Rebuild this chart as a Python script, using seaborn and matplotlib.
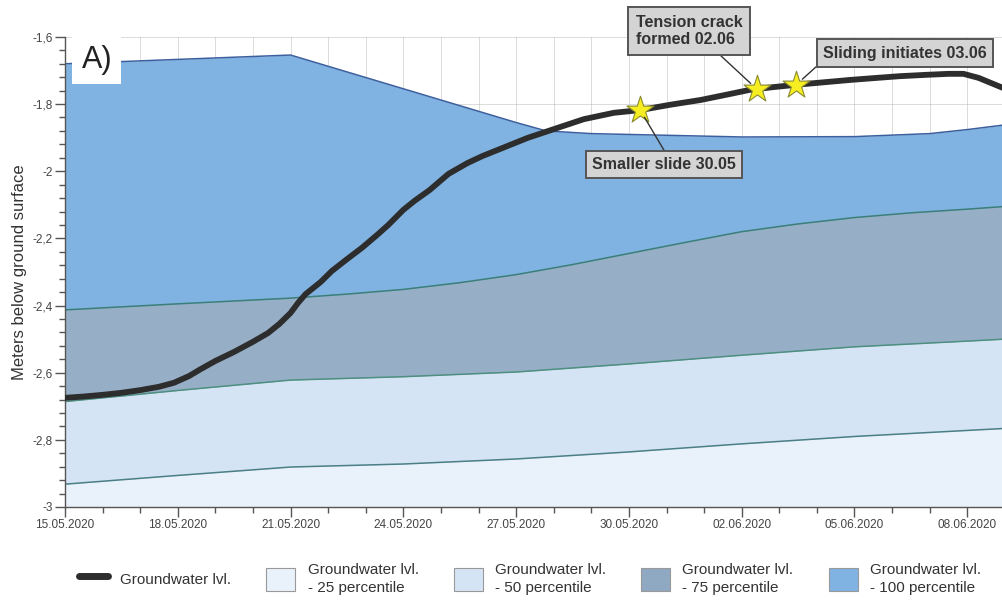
import numpy as np
import pandas as pd
import matplotlib.pyplot as plt
import matplotlib.dates as mdates
from matplotlib.patches import Patch
from matplotlib.lines import Line2D
from matplotlib.ticker import MultipleLocator, FuncFormatter
import seaborn as sns

start = pd.Timestamp('2020-05-15')

# groundwater level (m), days after 15.05.2020
gw_day = [0, 0.5, 1.0, 1.5, 2.0, 2.5, 2.9, 3.3, 3.6, 4.0, 4.5, 5.0, 5.4, 5.7,
          6.0, 6.2, 6.4, 6.8, 7.1, 7.5, 7.9, 8.3, 8.6, 9.0, 9.3, 9.7, 10.2,
          10.7, 11.1, 11.5, 12.3, 13.1, 13.8, 14.6, 15.3, 16.1, 16.9, 17.6,
          18.2, 18.8, 19.5, 20.2, 20.9, 21.6, 22.2, 22.9, 23.5, 23.9, 24.3, 24.95]
gw_level = [-2.675, -2.671, -2.666, -2.660, -2.652, -2.642, -2.630, -2.610,
            -2.590, -2.565, -2.538, -2.508, -2.482, -2.455, -2.422, -2.392,
            -2.366, -2.330, -2.297, -2.262, -2.228, -2.190, -2.160, -2.115,
            -2.088, -2.056, -2.008, -1.976, -1.955, -1.937, -1.901, -1.871,
            -1.845, -1.826, -1.818, -1.802, -1.788, -1.772, -1.758, -1.750,
            -1.742, -1.735, -1.728, -1.722, -1.717, -1.713, -1.710, -1.710,
            -1.722, -1.752]

# percentile levels
p25_day = [0, 3, 6, 9, 12, 15, 18, 21, 24, 25]
p25 = [-2.932, -2.906, -2.881, -2.872, -2.857, -2.836, -2.812, -2.790, -2.772, -2.766]
p50_day = [0, 3, 6, 9, 12, 15, 18, 21, 24, 25]
p50 = [-2.686, -2.653, -2.622, -2.612, -2.598, -2.574, -2.548, -2.523, -2.506, -2.500]
p75_day = [0, 3, 6, 7.5, 9, 10.5, 12, 13.5, 15, 16.5, 18, 19.5, 21, 22.5, 24, 25]
p75 = [-2.413, -2.395, -2.378, -2.366, -2.352, -2.332, -2.308, -2.278, -2.245,
       -2.212, -2.180, -2.157, -2.138, -2.124, -2.113, -2.105]
p100_day = [0, 6, 12, 12.8, 14, 16, 18, 21, 23, 24, 25]
p100 = [-1.680, -1.654, -1.855, -1.880, -1.888, -1.893, -1.898, -1.897, -1.888, -1.876, -1.862]

# events on the groundwater curve
event_label = ['Smaller slide 30.05', 'Tension crack\nformed 02.06', 'Sliding initiates 03.06']
event_day = [15.3, 18.4, 19.45]

legend_labels = ['Groundwater lvl.', 'Groundwater lvl.\n- 25 percentile',
                 'Groundwater lvl.\n- 50 percentile', 'Groundwater lvl.\n- 75 percentile',
                 'Groundwater lvl.\n- 100 percentile']


def to_dates(d):
    return start + pd.to_timedelta(np.asarray(d, dtype=float), unit='D')


sns.set_theme(style='white')
plt.rcParams['font.family'] = ['Liberation Sans', 'DejaVu Sans']

fig = plt.figure(figsize=(10.03, 6.05), dpi=100)
ax = fig.add_axes([0.0648, 0.162, 0.9352, 0.777])

bottom = -3.0
bands = [
    (p100_day, p100, '#80b3e1', '#3d5f9e'),
    (p75_day, p75, '#97afc6', '#3b7f78'),
    (p50_day, p50, '#d5e4f4', '#4d8f80'),
    (p25_day, p25, '#e9f1fa', '#4a7f86'),
]
for days, vals, fc, ec in bands:
    x = to_dates(days)
    ax.fill_between(x, vals, bottom, color=fc, lw=0, zorder=1)
    ax.plot(x, vals, color=ec, lw=1.1, zorder=2)

gw_x = to_dates(gw_day)
sns.lineplot(x=gw_x, y=gw_level, ax=ax, color='#2d2d2d', lw=4.2,
             solid_capstyle='round', solid_joinstyle='round', zorder=5)

ev_x = to_dates(event_day)
ev_y = np.interp(event_day, gw_day, gw_level)
sns.scatterplot(x=ev_x, y=ev_y, ax=ax, marker='*', s=420, color='#f7ee22',
                edgecolor='#8a8a30', linewidth=0.8, zorder=6)

# annotation boxes
box_pos = [(15.93, -1.981), (16.6, -1.582), (22.34, -1.648)]
rel = [(0.53, 1.0), (0.71, 0.0), (0.0, 0.0)]
pads = [0.38, 0.5, 0.4]
for lab, ex, ey, (bx, by), rp, pd_ in zip(event_label, ev_x, ev_y, box_pos, rel, pads):
    ax.annotate(lab, xy=(mdates.date2num(ex), ey),
                xytext=(mdates.date2num(to_dates([bx])[0]), by),
                ha='center', va='center', multialignment='left',
                fontsize=11.5, fontweight='bold', color='#333333',
                bbox=dict(boxstyle=f'square,pad={pd_}', fc='#d4d4d4', ec='#555555', lw=1.4),
                arrowprops=dict(arrowstyle='-', color='#333333', lw=1,
                                relpos=rp, shrinkA=0, shrinkB=6),
                annotation_clip=False, zorder=7)

ax.text(0.034, 0.951, 'A)', transform=ax.transAxes, fontsize=22, color='#222222',
        ha='center', va='center', zorder=8,
        bbox=dict(boxstyle='square,pad=0.3', fc='white', ec='none'))

# axes
ax.set_ylim(-3, -1.6)
ax.set_xlim(to_dates([0])[0], to_dates([24.95])[0])
ax.yaxis.set_major_locator(MultipleLocator(0.2))
ax.yaxis.set_minor_locator(MultipleLocator(0.04))
ax.yaxis.set_major_formatter(FuncFormatter(lambda v, _: f'{v:g}'.replace('.', ',')))
ax.set_xticks(to_dates(range(0, 25, 3)))
ax.xaxis.set_minor_locator(mdates.DayLocator())
ax.xaxis.set_major_formatter(mdates.DateFormatter('%d.%m.%Y'))

ax.set_ylabel('Meters below ground surface', fontsize=12, color='#333333', labelpad=4)
ax.set_xlabel('')

for side in ['top', 'right']:
    ax.spines[side].set_visible(False)
for side in ['left', 'bottom']:
    ax.spines[side].set_color('#555555')
    ax.spines[side].set_linewidth(1)

ax.tick_params(axis='both', which='both', bottom=True, left=True)
ax.tick_params(axis='both', which='major', direction='out', length=7, width=1,
               color='#555555', labelsize=8.5, labelcolor='#444444', pad=2)
ax.tick_params(axis='both', which='minor', direction='out', length=4, width=1,
               color='#555555')
for t in ax.get_xticklabels() + ax.get_yticklabels():
    t.set_fontfamily(['Liberation Sans Narrow', 'Liberation Sans'])

ax.grid(True, which='major', axis='y', color='#b0b0b0', alpha=0.45, lw=0.7)
ax.grid(True, which='both', axis='x', color='#b0b0b0', alpha=0.45, lw=0.7)

handles = [Line2D([], [], color='#2d2d2d', lw=5)]
for fc in ['#e9f1fa', '#d5e4f4', '#8fa9c3', '#80b3e1']:
    handles.append(Patch(facecolor=fc, edgecolor='#999999', lw=0.8))
leg = fig.legend(handles, legend_labels, loc='center left', bbox_to_anchor=(0.065, 0.043),
                 ncol=5, frameon=False, fontsize=11, handlelength=1.9, handleheight=2.0,
                 handletextpad=0.8, columnspacing=2.3, labelcolor='#333333')
for t in leg.get_texts():
    t.set_linespacing(1.35)

fig.savefig('out.png', dpi=100)
